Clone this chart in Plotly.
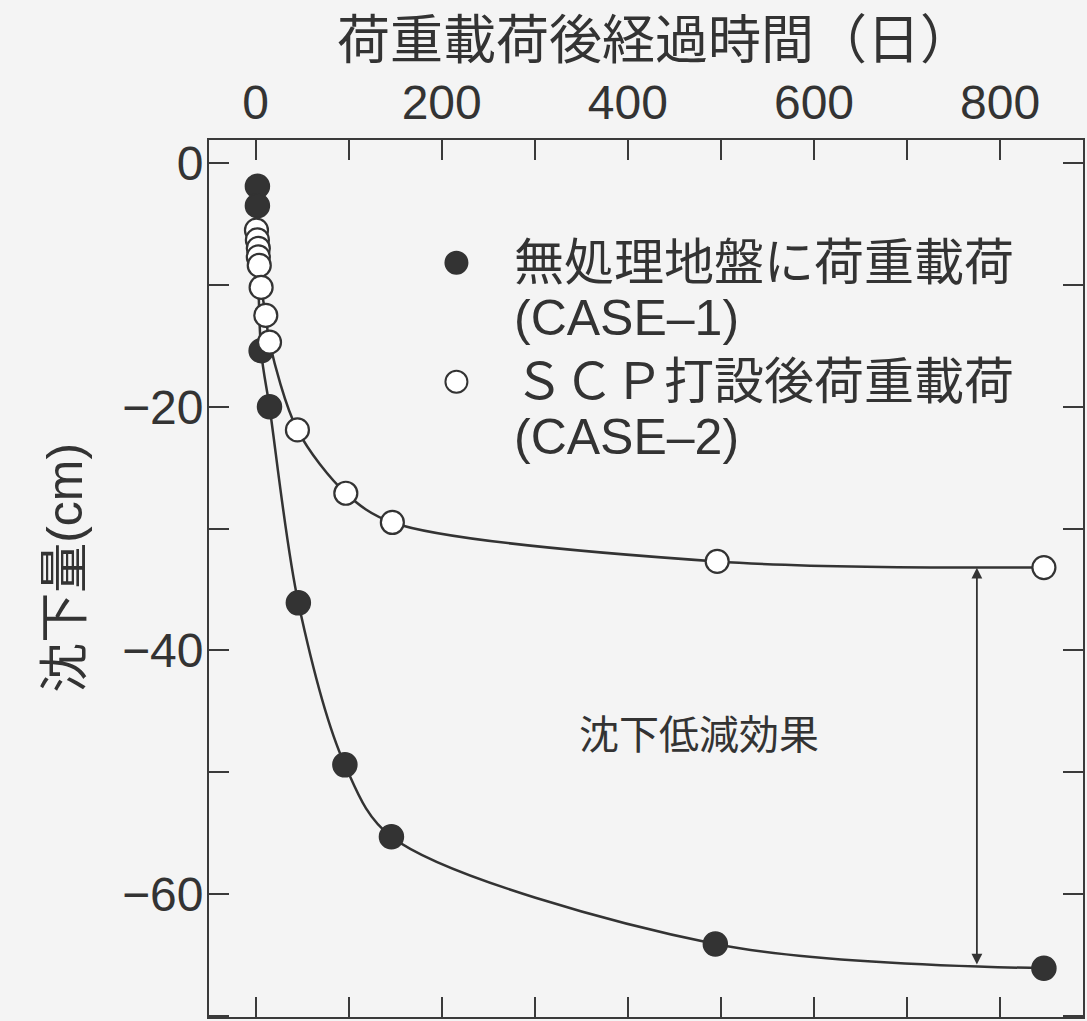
import plotly.graph_objects as go

# ---- data ----
case1_days = [2, 2, 6, 15, 46, 96, 146, 494, 847]
case1_settle = [-1.9, -3.5, -15.4, -20.0, -36.1, -49.4, -55.3, -64.1, -66.1]

case2_days = [1, 2, 3, 3, 4, 6, 11, 15, 45, 97, 147, 496, 847]
case2_settle = [-5.5, -6.3, -7.0, -7.7, -8.4, -10.2, -12.5, -14.7, -21.9, -27.1, -29.5, -32.7, -33.2]

x_tick_vals = [0, 100, 200, 300, 400, 500, 600, 700, 800]
x_tick_text = ["0", "", "200", "", "400", "", "600", "", "800"]
y_tick_vals = [0, -10, -20, -30, -40, -50, -60, -70]
y_tick_text = ["0", "", "\u221220", "", "\u221240", "", "\u221260", ""]

legend_case1 = ["無処理地盤に荷重載荷", "(CASE\u20131)"]
legend_case2 = ["ＳＣＰ打設後荷重載荷", "(CASE\u20132)"]
effect_label = "沈下低減効果"
effect_day = 775
effect_top = -33.1
effect_bottom = -65.8

x_title = "荷重載荷後経過時間（日）"
y_title = "沈下量(cm)"

INK = "#333333"
BG = "#f4f4f4"
FONT = "Liberation Sans, Arial, Noto Sans CJK JP, sans-serif"

W, H = 1087, 1021
ML, MR, MT, MB = 209, 2, 140, 3
PW, PH = W - ML - MR, H - MT - MB


def px_x(p):
    return (p - ML) / PW


def px_y(p):
    return 1 - (p - MT) / PH


fig = go.Figure()

# fitted curves
fig.add_trace(go.Scatter(x=case1_days, y=case1_settle, mode="lines",
                         line=dict(color=INK, width=2.5, shape="spline", smoothing=0.9),
                         showlegend=False, hoverinfo="skip"))
fig.add_trace(go.Scatter(x=case2_days, y=case2_settle, mode="lines",
                         line=dict(color=INK, width=2.5, shape="spline", smoothing=0.9),
                         showlegend=False, hoverinfo="skip"))
# markers
fig.add_trace(go.Scatter(x=case1_days, y=case1_settle, mode="markers",
                         marker=dict(symbol="circle", size=24, color=INK,
                                     line=dict(color=INK, width=1.5)),
                         name=" ".join(legend_case1), showlegend=False))
fig.add_trace(go.Scatter(x=case2_days, y=case2_settle, mode="markers",
                         marker=dict(symbol="circle", size=23, color="#ffffff",
                                     line=dict(color=INK, width=2.2)),
                         name=" ".join(legend_case2), showlegend=False))

axis_common = dict(showline=True, linecolor="#3a3a3a", linewidth=2, mirror="ticks",
                   ticks="inside", ticklen=20, tickwidth=2, tickcolor="#3a3a3a",
                   showgrid=False, zeroline=False,
                   tickfont=dict(family=FONT, size=48, color=INK))

fig.update_xaxes(side="top", range=[-50, 889], tickmode="array",
                 tickvals=x_tick_vals, ticktext=x_tick_text, **axis_common)
fig.update_yaxes(range=[-70.1, 1.9], tickmode="array",
                 tickvals=y_tick_vals, ticktext=y_tick_text,
                 ticklabelstandoff=-6, **axis_common)

annotations = []
# axis titles
annotations.append(dict(text=x_title, xref="paper", yref="paper", x=px_x(656), y=px_y(40),
                        showarrow=False, font=dict(family=FONT, size=53, color=INK),
                        xanchor="center", yanchor="middle"))
annotations.append(dict(text=y_title, xref="paper", yref="paper", x=px_x(64), y=px_y(568),
                        showarrow=False, textangle=-90,
                        font=dict(family=FONT, size=50, color=INK),
                        xanchor="center", yanchor="middle"))

# manual legend text
legend_rows = [(legend_case1[0], 263), (legend_case1[1], 318),
               (legend_case2[0], 382), (legend_case2[1], 437)]
for txt, yp in legend_rows:
    annotations.append(dict(text=txt, xref="paper", yref="paper", x=px_x(513), y=px_y(yp),
                            showarrow=False, xanchor="left", yanchor="middle",
                            font=dict(family=FONT, size=50, color=INK)))

# settlement reduction effect
annotations.append(dict(text=effect_label, x=px_x(822), y=px_y(760), xref="paper", yref="paper",
                        showarrow=False, font=dict(family=FONT, size=40, color=INK)))
annotations.append(dict(x=effect_day, y=effect_bottom, ax=effect_day, ay=effect_top,
                        xref="x", yref="y", axref="x", ayref="y", text="",
                        showarrow=True, arrowhead=2, arrowside="end+start",
                        arrowsize=1.2, arrowwidth=1.8, arrowcolor=INK))

shapes = []
for yp, fill in [(263, INK), (382, "#ffffff")]:
    shapes.append(dict(type="circle", xref="paper", yref="paper",
                       xsizemode="pixel", ysizemode="pixel",
                       xanchor=px_x(457), yanchor=px_y(yp),
                       x0=-11, x1=11, y0=-11, y1=11,
                       fillcolor=fill, line=dict(color=INK, width=2)))

fig.update_layout(width=W, height=H, margin=dict(l=ML, r=MR, t=MT, b=MB, pad=0),
                  paper_bgcolor=BG, plot_bgcolor=BG, showlegend=False,
                  annotations=annotations, shapes=shapes,
                  font=dict(family=FONT, color=INK))

fig.write_html("out.html")
